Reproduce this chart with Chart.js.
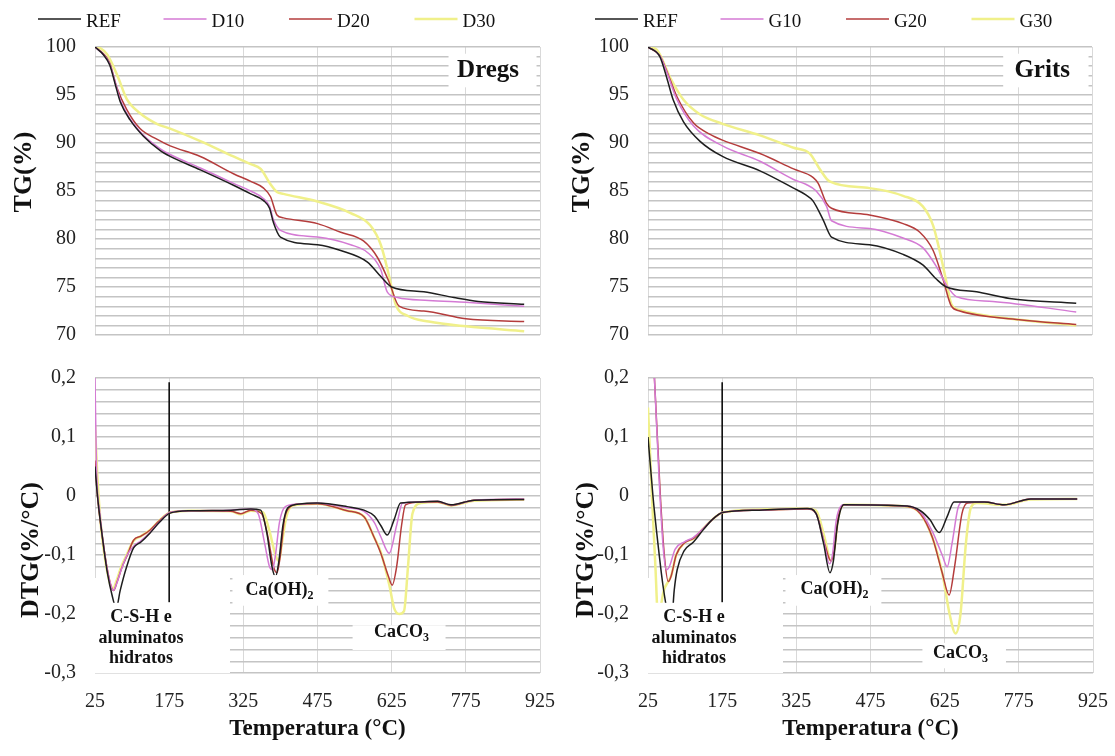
<!DOCTYPE html>
<html>
<head>
<meta charset="utf-8">
<script src="https://cdn.jsdelivr.net/npm/chart.js@4.4.1/dist/chart.umd.min.js"></script>
<style>
    html, body { margin: 0; padding: 0; background: #fff; }
    #page { position: relative; width: 1115px; height: 756px; overflow: hidden; }
    .panel { position: absolute; }
</style>
</head>
<body>
<div id="page">
    <div class="panel" style="left:0;top:0;width:560px;height:366px"><canvas id="tgDregs"></canvas></div>
    <div class="panel" style="left:0;top:347px;width:572px;height:409px"><canvas id="dtgDregs"></canvas></div>
    <div class="panel" style="left:553px;top:0;width:560px;height:366px"><canvas id="tgGrits"></canvas></div>
    <div class="panel" style="left:553px;top:347px;width:572px;height:409px"><canvas id="dtgGrits"></canvas></div>
</div>
<script>
const FONT = "'Liberation Serif', 'Times New Roman', serif";

// axis ticks
const tempTicks = [25, 175, 325, 475, 625, 775, 925];
const tgTicks = [70, 75, 80, 85, 90, 95, 100];
const dtgTicks = [-0.3, -0.2, -0.1, 0, 0.1, 0.2];

// series
const dregsNames = ['REF', 'D10', 'D20', 'D30'];
const gritsNames = ['REF', 'G10', 'G20', 'G30'];
const seriesColors = ['#1e1e1e', '#d47ad4', '#b43c3c', '#f0f08a'];
const seriesWidths = [1.5, 1.5, 1.5, 2.5];

// vertical marker at 175 °C on the DTG plots
const markerLine = [[175, 0.193], [175, -0.18]];

// TG Dregs  [temperature °C, mass %]
const tgDregsREF = [[25,100],[42,99.2],[55,98.1],[66,96.1],[76,94.3],[96,92.4],[123,90.7],[157,89.2],[177,88.6],[238,87.2],[305,85.6],[340,84.7],[366,84.0],[378,83.2],[386,81.7],[400,80.2],[475,79.4],[522,78.8],[576,77.6],[603,76.1],[625,75.0],[690,74.5],[751,73.9],[800,73.5],[893,73.2]];
const tgDregsD10 = [[25,100],[42,99.2],[55,98.2],[66,96.3],[76,94.5],[96,92.5],[123,90.8],[157,89.4],[177,88.8],[238,87.4],[305,85.8],[340,85.0],[366,84.2],[378,83.4],[386,82.0],[400,80.9],[475,80.2],[542,79.4],[576,78.6],[603,76.8],[616,74.5],[637,73.9],[700,73.6],[775,73.4],[893,73.0]];
const tgDregsD20 = [[25,100],[42,99.3],[55,98.3],[69,95.8],[89,93.5],[116,91.5],[150,90.4],[177,89.7],[238,88.6],[305,86.8],[340,86.0],[366,85.3],[380,84.4],[393,82.5],[406,82.2],[475,81.6],[522,80.7],[568,79.8],[596,78.1],[620,75.5],[640,73.0],[690,72.5],[775,71.7],[893,71.4]];
const tgDregsD30 = [[25,100],[35,99.9],[50,99.2],[72,96.8],[89,94.6],[116,93.1],[150,92.0],[177,91.5],[238,90.2],[305,88.6],[340,87.8],[360,87.3],[380,85.7],[393,84.9],[406,84.7],[475,83.9],[542,82.7],[582,81.4],[603,79.4],[620,76.1],[633,73.2],[657,72.0],[700,71.4],[775,70.9],[893,70.4]];

// TG Grits
const tgGritsREF = [[25,100],[49,99.0],[63,96.8],[76,94.5],[97,92.2],[130,90.2],[176,88.6],[252,87.1],[320,85.3],[345,84.6],[359,84.0],[380,82.0],[397,80.2],[474,79.4],[542,78.4],[582,77.3],[610,75.8],[630,75.0],[691,74.5],[758,73.8],[893,73.3]];
const tgGritsG10 = [[25,100],[49,99.1],[63,97.4],[83,94.6],[117,91.8],[176,89.7],[252,88.1],[320,86.2],[345,85.7],[366,85.0],[387,83.4],[397,81.9],[474,81.1],[542,80.1],[582,79.1],[610,77.1],[630,75.2],[650,74.0],[724,73.5],[893,72.4]];
const tgGritsG20 = [[25,100],[49,99.1],[63,97.5],[83,94.9],[117,92.1],[151,90.9],[176,90.3],[252,88.9],[320,87.3],[360,86.4],[370,85.8],[387,83.7],[397,83.2],[474,82.5],[542,81.6],[576,80.7],[603,78.8],[623,75.8],[640,73.0],[657,72.5],[778,71.6],[893,71.1]];
const tgGritsG30 = [[25,100],[43,99.7],[70,96.8],[97,94.5],[130,93.0],[176,92.0],[252,90.8],[320,89.5],[353,88.9],[373,87.3],[393,86.0],[474,85.3],[542,84.5],[582,83.4],[603,81.4],[616,78.8],[630,75.5],[640,73.2],[657,72.6],[778,71.6],[893,71.0]];

// DTG Dregs  [temperature °C, %/°C]
const dtgDregsREF = [[25,0.05],[30,0.0],[40,-0.07],[50,-0.13],[60,-0.17],[68,-0.19],[76,-0.16],[89,-0.12],[103,-0.088],[118,-0.078],[136,-0.063],[155,-0.045],[177,-0.029],[220,-0.025],[300,-0.024],[340,-0.022],[360,-0.024],[372,-0.06],[383,-0.12],[390,-0.137],[397,-0.11],[405,-0.05],[415,-0.02],[434,-0.014],[474,-0.012],[535,-0.018],[569,-0.024],[590,-0.034],[603,-0.05],[616,-0.066],[630,-0.04],[643,-0.012],[684,-0.01],[718,-0.009],[745,-0.015],[792,-0.007],[893,-0.006]];
const dtgDregsD10 = [[25,0.2],[28,0.05],[35,-0.03],[45,-0.1],[55,-0.145],[62,-0.16],[68,-0.15],[78,-0.125],[90,-0.1],[103,-0.085],[118,-0.076],[136,-0.062],[155,-0.044],[177,-0.028],[220,-0.025],[300,-0.024],[340,-0.022],[355,-0.03],[368,-0.08],[378,-0.12],[384,-0.125],[390,-0.1],[398,-0.045],[410,-0.018],[434,-0.014],[474,-0.012],[535,-0.02],[569,-0.026],[590,-0.045],[603,-0.069],[620,-0.097],[635,-0.05],[647,-0.012],[684,-0.01],[718,-0.009],[745,-0.015],[792,-0.007],[893,-0.005]];
const dtgDregsD20 = [[25,0.06],[30,0.0],[40,-0.07],[50,-0.125],[58,-0.155],[63,-0.16],[70,-0.145],[80,-0.12],[89,-0.103],[103,-0.075],[118,-0.068],[136,-0.058],[155,-0.042],[177,-0.028],[220,-0.025],[300,-0.026],[320,-0.03],[340,-0.024],[362,-0.03],[375,-0.07],[386,-0.12],[393,-0.13],[400,-0.1],[408,-0.04],[420,-0.018],[434,-0.014],[474,-0.013],[535,-0.025],[569,-0.035],[589,-0.069],[603,-0.097],[618,-0.135],[626,-0.151],[635,-0.12],[645,-0.05],[653,-0.015],[684,-0.01],[718,-0.01],[745,-0.016],[792,-0.007],[893,-0.006]];
const dtgDregsD30 = [[25,0.12],[30,0.03],[38,-0.06],[48,-0.12],[56,-0.15],[62,-0.157],[68,-0.145],[78,-0.12],[89,-0.1],[103,-0.076],[118,-0.068],[136,-0.058],[155,-0.042],[177,-0.028],[220,-0.025],[300,-0.026],[320,-0.031],[340,-0.025],[365,-0.028],[378,-0.06],[390,-0.1],[397,-0.11],[403,-0.08],[412,-0.035],[425,-0.016],[474,-0.013],[535,-0.025],[569,-0.035],[589,-0.069],[603,-0.095],[620,-0.15],[630,-0.19],[640,-0.2],[650,-0.195],[658,-0.12],[667,-0.03],[684,-0.012],[718,-0.01],[745,-0.016],[792,-0.008],[893,-0.006]];

// DTG Grits
const dtgGritsREF = [[25,0.1],[35,0.0],[45,-0.08],[55,-0.15],[65,-0.2],[72,-0.22],[78,-0.16],[84,-0.125],[98,-0.093],[117,-0.078],[137,-0.057],[155,-0.04],[176,-0.028],[250,-0.024],[347,-0.021],[365,-0.03],[380,-0.08],[393,-0.13],[400,-0.11],[408,-0.05],[421,-0.015],[549,-0.017],[576,-0.025],[595,-0.04],[614,-0.062],[630,-0.035],[644,-0.01],[705,-0.01],[745,-0.015],[799,-0.005],[893,-0.005]];
const dtgGritsG10 = [[25,0.4],[38,0.2],[48,0.02],[56,-0.09],[62,-0.125],[68,-0.12],[80,-0.09],[98,-0.078],[117,-0.07],[137,-0.055],[155,-0.04],[176,-0.028],[250,-0.024],[347,-0.021],[365,-0.03],[380,-0.075],[392,-0.115],[398,-0.1],[406,-0.04],[420,-0.015],[549,-0.017],[576,-0.027],[600,-0.06],[620,-0.1],[630,-0.12],[640,-0.08],[652,-0.02],[661,-0.01],[705,-0.01],[745,-0.015],[799,-0.005],[893,-0.005]];
const dtgGritsG20 = [[25,0.4],[38,0.2],[50,0.0],[58,-0.1],[66,-0.145],[72,-0.135],[82,-0.1],[98,-0.08],[117,-0.072],[137,-0.055],[155,-0.04],[176,-0.028],[250,-0.024],[347,-0.022],[365,-0.03],[382,-0.08],[395,-0.11],[402,-0.09],[410,-0.035],[422,-0.015],[549,-0.018],[576,-0.03],[600,-0.07],[620,-0.13],[634,-0.168],[645,-0.12],[660,-0.03],[671,-0.012],[705,-0.01],[745,-0.015],[799,-0.005],[893,-0.005]];
const dtgGritsG30 = [[25,0.15],[33,0.0],[40,-0.12],[45,-0.2],[50,-0.19],[57,-0.16],[66,-0.145],[72,-0.135],[82,-0.1],[98,-0.08],[117,-0.072],[137,-0.055],[155,-0.04],[176,-0.028],[250,-0.023],[347,-0.021],[365,-0.025],[382,-0.07],[395,-0.11],[402,-0.09],[410,-0.035],[422,-0.015],[549,-0.018],[576,-0.03],[600,-0.07],[620,-0.13],[635,-0.2],[647,-0.233],[657,-0.2],[668,-0.08],[678,-0.02],[690,-0.012],[745,-0.015],[799,-0.006],[893,-0.005]];

// annotations per panel (white boxes and texts placed in data units)
const panelNotes = {
    tgDregs: {
        legendX: 38, yTitle: 'TG(%)', yTitleX: 24, yTitleY: 172,
        over: [{t: [740, 918], v: [95.8, 99.3]}],
        labels: [{t: 820, v: 96.9, lines: ['Dregs'], size: 25}]
    },
    tgGrits: {
        legendX: 42, yTitle: 'TG(%)', yTitleX: 29, yTitleY: 172,
        over: [{t: [745, 918], v: [95.8, 99.3]}],
        labels: [{t: 824, v: 96.9, lines: ['Grits'], size: 25}]
    },
    dtgDregs: {
        yTitle: 'DTG(%/°C)', yTitleX: 31, yTitleY: 203,
        under: [{t: [20, 298], v: [-0.3, -0.139]}],
        over: [{t: [20, 222], v: [-0.3, -0.181]}, {t: [303, 497], v: [-0.186, -0.134]}, {t: [546, 734], v: [-0.261, -0.219]}],
        labels: [
            {t: 118, v: -0.2136, lines: ['C-S-H e', 'aluminatos', 'hidratos'], size: 18},
            {t: 398, v: -0.168, lines: ['Ca(OH)'], sub: '2', size: 18},
            {t: 645, v: -0.239, lines: ['CaCO'], sub: '3', size: 18}
        ]
    },
    dtgGrits: {
        yTitle: 'DTG(%/°C)', yTitleX: 33, yTitleY: 203,
        under: [{t: [20, 298], v: [-0.3, -0.139]}],
        over: [{t: [20, 222], v: [-0.3, -0.181]}, {t: [303, 497], v: [-0.186, -0.134]}, {t: [580, 749], v: [-0.292, -0.249]}],
        labels: [
            {t: 118, v: -0.2136, lines: ['C-S-H e', 'aluminatos', 'hidratos'], size: 18},
            {t: 402, v: -0.166, lines: ['Ca(OH)'], sub: '2', size: 18},
            {t: 657, v: -0.275, lines: ['CaCO'], sub: '3', size: 18}
        ]
    }
};

function drawBoxes(chart, boxes) {
    const ctx = chart.ctx, xs = chart.scales.x, ys = chart.scales.y;
    ctx.save();
    ctx.fillStyle = '#ffffff';
    (boxes || []).forEach(b => {
        const x0 = xs.getPixelForValue(b.t[0]), x1 = xs.getPixelForValue(b.t[1]);
        const y0 = ys.getPixelForValue(b.v[1]), y1 = ys.getPixelForValue(b.v[0]);
        ctx.fillRect(x0, y0, x1 - x0, y1 - y0);
    });
    ctx.restore();
}

function drawLabels(chart, labels) {
    const ctx = chart.ctx, xs = chart.scales.x, ys = chart.scales.y;
    ctx.save();
    ctx.fillStyle = '#111';
    ctx.textBaseline = 'alphabetic';
    (labels || []).forEach(l => {
        const cx = xs.getPixelForValue(l.t);
        let y = ys.getPixelForValue(l.v);
        const subSize = Math.round(l.size * 0.65);
        l.lines.forEach(line => {
            ctx.font = 'bold ' + l.size + 'px ' + FONT;
            const w1 = ctx.measureText(line).width;
            let w2 = 0;
            if (l.sub) {
                ctx.font = 'bold ' + subSize + 'px ' + FONT;
                w2 = ctx.measureText(l.sub).width;
            }
            const left = cx - (w1 + w2) / 2;
            ctx.textAlign = 'left';
            ctx.font = 'bold ' + l.size + 'px ' + FONT;
            ctx.fillText(line, left, y);
            if (l.sub) {
                ctx.font = 'bold ' + subSize + 'px ' + FONT;
                ctx.fillText(l.sub, left + w1, y + 4);
            }
            y += l.size * 1.15;
        });
    });
    ctx.restore();
}

function drawLegend(chart, startX) {
    const ctx = chart.ctx;
    ctx.save();
    ctx.font = '19px ' + FONT;
    ctx.textBaseline = 'alphabetic';
    ctx.textAlign = 'left';
    ctx.fillStyle = '#111';
    chart.data.datasets.filter(ds => ds.label).forEach((ds, i) => {
        const x = startX + i * 125.5;
        ctx.strokeStyle = ds.borderColor;
        ctx.lineWidth = ds.borderWidth;
        ctx.beginPath();
        ctx.moveTo(x, 19);
        ctx.lineTo(x + 43, 19);
        ctx.stroke();
        ctx.fillText(ds.label, x + 48, 27);
    });
    ctx.restore();
}

function drawYTitle(chart, text, x, y) {
    const ctx = chart.ctx;
    ctx.save();
    ctx.translate(x, y);
    ctx.rotate(-Math.PI / 2);
    ctx.font = 'bold 26px ' + FONT;
    ctx.fillStyle = '#111';
    ctx.textAlign = 'center';
    ctx.textBaseline = 'middle';
    ctx.fillText(text, 0, 0);
    ctx.restore();
}

const notesPlugin = {
    id: 'notes',
    beforeDatasetsDraw(chart) {
        drawBoxes(chart, panelNotes[chart.canvas.id].under);
    },
    afterDatasetsDraw(chart) {
        const n = panelNotes[chart.canvas.id];
        drawBoxes(chart, n.over);
        drawLabels(chart, n.labels);
    },
    afterDraw(chart) {
        const n = panelNotes[chart.canvas.id];
        if (n.legendX !== undefined) drawLegend(chart, n.legendX);
        drawYTitle(chart, n.yTitle, n.yTitleX, n.yTitleY);
    }
};

function toPoints(arr) {
    return arr.map(p => ({x: p[0], y: p[1]}));
}

function makeDatasets(names, series, withMarker) {
    const sets = series.map((s, i) => ({
        label: names[i],
        data: toPoints(s),
        borderColor: seriesColors[i],
        borderWidth: seriesWidths[i],
        pointRadius: 0,
        fill: false,
        cubicInterpolationMode: 'monotone'
    }));
    if (withMarker) {
        sets.push({label: '', data: toPoints(markerLine), borderColor: '#000', borderWidth: 1.5, pointRadius: 0});
    }
    return sets;
}

function xAxis(showTicks) {
    return {
        type: 'linear',
        min: tempTicks[0],
        max: tempTicks[tempTicks.length - 1],
        ticks: {
            display: showTicks,
            stepSize: tempTicks[1] - tempTicks[0],
            autoSkip: false,
            maxRotation: 0,
            padding: 17,
            color: '#222',
            font: {family: FONT, size: 20}
        },
        grid: {color: '#d9d9d9', lineWidth: 1, drawTicks: false},
        border: {display: false},
        title: {
            display: showTicks,
            text: 'Temperatura (°C)',
            color: '#111',
            font: {family: FONT, size: 23, weight: 'bold'},
            padding: {top: 0, bottom: 13}
        },
        afterFit: s => { s.height = showTicks ? 83 : 0; }
    };
}

function tgAxis() {
    return {
        type: 'linear',
        min: tgTicks[0],
        max: tgTicks[tgTicks.length - 1],
        ticks: {
            stepSize: 1,
            autoSkip: false,
            padding: 19,
            color: '#222',
            font: {family: FONT, size: 20},
            callback: v => tgTicks.includes(v) ? String(v) : ''
        },
        grid: {color: '#c4c4c4', lineWidth: 1.4, drawTicks: false},
        border: {display: false},
        afterFit: s => { s.width = 95; }
    };
}

function dtgAxis() {
    return {
        type: 'linear',
        min: dtgTicks[0],
        max: dtgTicks[dtgTicks.length - 1],
        ticks: {
            stepSize: 0.02,
            autoSkip: false,
            padding: 19,
            color: '#222',
            font: {family: FONT, size: 20},
            callback: v => {
                const r = Math.round(v * 100);
                if (!dtgTicks.some(t => Math.round(t * 100) === r)) return '';
                return String(r / 100).replace('.', ',');
            }
        },
        grid: {color: '#c4c4c4', lineWidth: 1.4, drawTicks: false},
        border: {display: false},
        afterFit: s => { s.width = 95; }
    };
}

function makeChart(id, datasets, isTG, rightPad) {
    const ctx = document.getElementById(id).getContext('2d');
    return new Chart(ctx, {
        type: 'line',
        data: {datasets: datasets},
        options: {
            responsive: true,
            maintainAspectRatio: false,
            animation: false,
            layout: {padding: isTG ? {top: 47, bottom: 14, left: 0, right: rightPad} : {top: 12, bottom: 0, left: 0, right: rightPad}},
            plugins: {legend: {display: false}, tooltip: {enabled: false}},
            scales: {
                x: xAxis(!isTG),
                y: isTG ? tgAxis() : dtgAxis()
            }
        },
        plugins: [notesPlugin]
    });
}

document.addEventListener('DOMContentLoaded', function() {
    makeChart('tgDregs', makeDatasets(dregsNames, [tgDregsREF, tgDregsD10, tgDregsD20, tgDregsD30], false), true, 20);
    makeChart('dtgDregs', makeDatasets(dregsNames, [dtgDregsREF, dtgDregsD10, dtgDregsD20, dtgDregsD30], true), false, 20);
    makeChart('tgGrits', makeDatasets(gritsNames, [tgGritsREF, tgGritsG10, tgGritsG20, tgGritsG30], false), true, 21);
    makeChart('dtgGrits', makeDatasets(gritsNames, [dtgGritsREF, dtgGritsG10, dtgGritsG20, dtgGritsG30], true), false, 21);
});
</script>
</body>
</html>
